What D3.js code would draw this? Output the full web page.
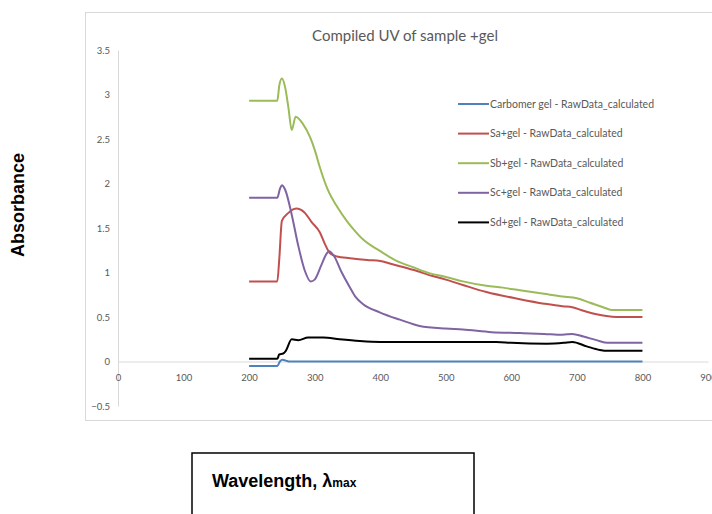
<!DOCTYPE html>
<html>
<head>
<meta charset="utf-8">
<script src="https://cdn.jsdelivr.net/npm/d3@7"></script>
<style>
  html, body { margin: 0; padding: 0; background: #fff; }
  svg { display: block; }
  text { font-family: "Liberation Sans", Arial, sans-serif; }
</style>
</head>
<body>
<svg id="chart" width="712" height="514"></svg>
<script>
// Wavelength (nm) / absorbance pairs for each sample
const carbomer = [[200,-0.05],[243,-0.05],[247,0.0],[251,0.02],[256,0.01],[262,0.0],[400,0.0],[600,0.0],[800,0.0]];
const saGel = [[200,0.9],[243,0.9],[246,1.15],[250,1.58],[260,1.67],[267,1.71],[273,1.72],[280,1.70],[285,1.67],[295,1.57],[308,1.45],[315,1.33],[323,1.22],[334,1.18],[354,1.16],[380,1.14],[400,1.13],[420,1.09],[450,1.03],[480,0.96],[500,0.92],[526,0.86],[562,0.78],[613,0.70],[650,0.65],[678,0.62],[693,0.61],[710,0.57],[730,0.53],[745,0.51],[760,0.50],[800,0.50]];
const sbGel = [[200,2.93],[243,2.93],[246,3.1],[250,3.18],[255,3.08],[260,2.85],[265,2.6],[271,2.75],[282,2.67],[293,2.52],[300,2.38],[308,2.18],[320,1.93],[335,1.73],[350,1.57],[360,1.48],[374,1.37],[400,1.24],[425,1.13],[450,1.06],[476,0.99],[500,0.95],[526,0.90],[562,0.85],[587,0.83],[613,0.80],[650,0.76],[678,0.73],[700,0.71],[720,0.66],[740,0.61],[753,0.58],[800,0.58]];
const scGel = [[200,1.84],[243,1.84],[247,1.94],[250,1.98],[255,1.93],[265,1.65],[275,1.30],[285,1.02],[294,0.90],[300,0.92],[310,1.08],[318,1.21],[322,1.24],[330,1.18],[340,1.02],[354,0.83],[363,0.72],[373,0.65],[400,0.55],[430,0.47],[460,0.40],[500,0.37],[526,0.36],[570,0.33],[613,0.32],[650,0.31],[678,0.30],[693,0.31],[710,0.28],[730,0.24],[747,0.21],[800,0.21]];
const sdGel = [[200,0.03],[243,0.03],[246,0.08],[252,0.09],[256,0.12],[265,0.25],[275,0.24],[290,0.27],[313,0.27],[338,0.25],[369,0.23],[400,0.22],[577,0.22],[600,0.21],[654,0.20],[680,0.21],[693,0.22],[715,0.17],[735,0.13],[747,0.12],[800,0.12]];

const seriesNames = ["Carbomer gel - RawData_calculated","Sa+gel - RawData_calculated","Sb+gel - RawData_calculated","Sc+gel - RawData_calculated","Sd+gel - RawData_calculated"];
const seriesColors = ["#4F81BD","#C0504D","#9BBB59","#8064A2","#000000"];
const seriesData = [carbomer, saGel, sbGel, scGel, sdGel];

const xTicks = [0,100,200,300,400,500,600,700,800,900];
const yTicks = [-0.5,0,0.5,1,1.5,2,2.5,3,3.5];

const svg = d3.select("#chart");

// Chart area frame
svg.append("rect")
  .attr("x", 85.5).attr("y", 12.5)
  .attr("width", 700).attr("height", 408)
  .attr("fill", "#fff").attr("stroke", "#D9D9D9").attr("stroke-width", 1);

const x = d3.scaleLinear().domain([0, 900]).range([118, 708]);
const y = d3.scaleLinear().domain([-0.5, 3.5]).range([406, 50]);

// Title
svg.append("text")
  .attr("x", 405).attr("y", 41)
  .attr("text-anchor", "middle")
  .attr("fill", "#595959")
  .style("font-family", "Lato, 'Liberation Sans', sans-serif")
  .style("font-size", "15px")
  .text("Compiled UV of sample +gel");

// Vertical axis
const yAxis = d3.axisLeft(y).tickValues(yTicks).tickSize(0).tickPadding(8)
  .tickFormat(d => d3.format("")(d));
const gy = svg.append("g").attr("transform", `translate(${x(0)},0)`).call(yAxis);
gy.select(".domain").attr("stroke", "#D9D9D9");
gy.selectAll("text").attr("fill", "#595959")
  .style("font-family", "Lato, 'Liberation Sans', sans-serif").style("font-size", "9.5px");

// Horizontal axis at zero
const xAxis = d3.axisBottom(x).tickValues(xTicks).tickSize(0).tickPadding(13);
const gx = svg.append("g").attr("transform", `translate(0,${y(0)})`).call(xAxis);
gx.select(".domain").attr("stroke", "#D9D9D9");
gx.selectAll("text").attr("fill", "#595959")
  .style("font-family", "Lato, 'Liberation Sans', sans-serif").style("font-size", "9.5px");

// Spectra
const line = d3.line().x(d => x(d[0])).y(d => y(d[1])).curve(d3.curveMonotoneX);
svg.append("g").selectAll("path")
  .data(seriesData)
  .join("path")
  .attr("d", line)
  .attr("fill", "none")
  .attr("stroke", (d, i) => seriesColors[i])
  .attr("stroke-width", 2)
  .attr("stroke-linejoin", "round");

// Legend
const legend = svg.append("g").selectAll("g")
  .data(seriesNames)
  .join("g")
  .attr("transform", (d, i) => `translate(458,${104 + i * 29.6})`);
legend.append("line")
  .attr("x1", 0).attr("x2", 31)
  .attr("stroke", (d, i) => seriesColors[i]).attr("stroke-width", 2);
legend.append("text")
  .attr("x", 32).attr("dy", "0.35em")
  .attr("fill", "#595959")
  .style("font-family", "Lato, 'Liberation Sans', sans-serif")
  .style("font-size", "10.5px")
  .text(d => d);

// Axis titles
svg.append("text")
  .attr("transform", "translate(24,205) rotate(-90)")
  .attr("text-anchor", "middle")
  .attr("font-weight", "bold")
  .attr("fill", "#000")
  .style("font-size", "18px")
  .text("Absorbance");

svg.append("rect")
  .attr("x", 192).attr("y", 453)
  .attr("width", 282).attr("height", 80)
  .attr("fill", "#fff").attr("stroke", "#000").attr("stroke-width", 1.5);

const xt = svg.append("text")
  .attr("x", 212).attr("y", 487)
  .attr("font-weight", "bold")
  .attr("fill", "#000")
  .style("font-size", "18px");
xt.append("tspan").text("Wavelength, λ");
xt.append("tspan").style("font-size", "12px").text("max");
</script>
</body>
</html>
